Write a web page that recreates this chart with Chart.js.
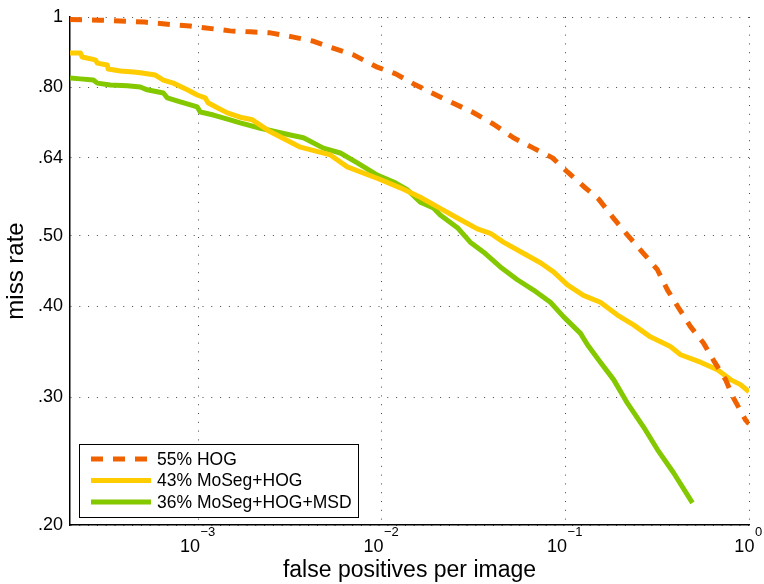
<!DOCTYPE html>
<html>
<head>
<meta charset="utf-8">
<script src="https://cdn.jsdelivr.net/npm/chart.js@4/dist/chart.umd.min.js"></script>
<style>
  html, body { margin: 0; padding: 0; background: #fff; }
  #wrap { width: 764px; height: 584px; }
</style>
</head>
<body>
<div id="wrap"><canvas id="roc"></canvas></div>
<script>
// curves (false positives per image, miss rate)
var hogX = [2.0e-4, 2.9e-4, 5.1e-4, 6.6e-4, 9.0e-4, 1.49e-3, 1.92e-3, 2.47e-3, 3.25e-3, 4.18e-3,
            5.23e-3, 7.0e-3, 9.44e-3, 1.19e-2, 1.49e-2, 1.91e-2, 2.42e-2, 3.11e-2, 4.06e-2, 5.21e-2,
            6.7e-2, 8.5e-2, 0.1026, 0.1253, 0.1514, 0.1803, 0.218, 0.266, 0.317, 0.36,
            0.413, 0.48, 0.565, 0.641, 0.745, 0.824, 0.957, 1.0];
var hogY = [0.992, 0.990, 0.984, 0.978, 0.972, 0.957, 0.954, 0.951, 0.939, 0.927,
            0.909, 0.887, 0.853, 0.835, 0.809, 0.784, 0.762, 0.740, 0.712, 0.682,
            0.660, 0.640, 0.612, 0.585, 0.562, 0.531, 0.501, 0.473, 0.449, 0.421,
            0.398, 0.375, 0.356, 0.337, 0.317, 0.299, 0.279, 0.2755];

var mosegX = [2.0e-4, 2.28e-4, 2.33e-4, 2.75e-4, 2.82e-4, 3.19e-4, 3.23e-4, 3.76e-4, 4.43e-4, 4.83e-4,
              5.83e-4, 6.45e-4, 7.31e-4, 8.71e-4, 9.87e-4, 1.09e-3, 1.13e-3, 1.27e-3, 1.44e-3, 1.69e-3,
              1.97e-3, 2.47e-3, 3.6e-3, 5.24e-3, 6.48e-3, 9.57e-3, 1.26e-2, 1.62e-2, 2.01e-2, 2.58e-2,
              3.31e-2, 3.9e-2, 4.59e-2, 5.9e-2, 7.31e-2, 8.61e-2, 0.1026, 0.1253, 0.155, 0.192,
              0.235, 0.29, 0.373, 0.424, 0.544, 0.673, 0.793, 0.899, 1.0];
var mosegY = [0.892, 0.892, 0.881, 0.873, 0.864, 0.859, 0.848, 0.843, 0.840, 0.838,
              0.832, 0.819, 0.811, 0.794, 0.781, 0.774, 0.762, 0.750, 0.738, 0.728,
              0.722, 0.695, 0.662, 0.646, 0.622, 0.599, 0.582, 0.565, 0.548, 0.529,
              0.511, 0.504, 0.490, 0.473, 0.459, 0.446, 0.428, 0.414, 0.405, 0.389,
              0.377, 0.363, 0.352, 0.343, 0.335, 0.327, 0.317, 0.312, 0.305];

var msdX = [2.0e-4, 2.28e-4, 2.68e-4, 2.82e-4, 3.31e-4, 4.1e-4, 4.83e-4, 5.27e-4, 6.45e-4, 6.78e-4,
            7.98e-4, 9.87e-4, 1.025e-3, 1.21e-3, 1.49e-3, 1.69e-3, 2.18e-3, 3.17e-3, 3.74e-3, 4.8e-3,
            5.94e-3, 7.35e-3, 9.44e-3, 1.16e-2, 1.38e-2, 1.62e-2, 1.91e-2, 2.08e-2, 2.58e-2, 3.03e-2,
            3.57e-2, 4.42e-2, 5.47e-2, 6.7e-2, 8.28e-2, 9.75e-2, 0.1208, 0.1318, 0.155, 0.183,
            0.218, 0.266, 0.317, 0.388, 0.492];
var msdY = [0.824, 0.822, 0.819, 0.811, 0.806, 0.804, 0.801, 0.794, 0.786, 0.774,
            0.764, 0.752, 0.740, 0.733, 0.722, 0.715, 0.703, 0.688, 0.682, 0.660,
            0.650, 0.630, 0.606, 0.593, 0.578, 0.556, 0.546, 0.534, 0.513, 0.490,
            0.475, 0.453, 0.435, 0.421, 0.405, 0.387, 0.367, 0.354, 0.335, 0.317,
            0.294, 0.273, 0.254, 0.236, 0.2145];

var seriesNames = ['55% HOG', '43% MoSeg+HOG', '36% MoSeg+HOG+MSD'];

var xTicks = [1e-3, 1e-2, 1e-1, 1];
var xTickExp = ['\u22123', '\u22122', '\u22121', '0'];   // drawn as 10 with a raised exponent
var yTicks = [0.2, 0.3, 0.4, 0.5, 0.64, 0.8, 1];
var yTickLabels = ['.20', '.30', '.40', '.50', '.64', '.80', '1'];

var orange = 'rgb(240,98,0)';
var yellow = 'rgb(255,204,0)';
var green  = 'rgb(132,200,0)';
var font = '"Liberation Sans", Arial, sans-serif';

function pts(xs, ys) {
    return xs.map(function(x, i) { return {x: x, y: ys[i]}; });
}

Chart.defaults.color = '#000';
Chart.defaults.font.family = font;

// x tick labels as 10^n with a real superscript
var powerLabels = {
    id: 'powerLabels',
    afterDraw: function(chart) {
        var ctx = chart.ctx;
        var sx = chart.scales.x;
        var base = sx.top + 27;
        ctx.save();
        ctx.fillStyle = '#000';
        ctx.textBaseline = 'alphabetic';
        ctx.textAlign = 'left';
        xTicks.forEach(function(v, i) {
            var px = sx.getPixelForValue(v);
            ctx.font = '18px ' + font;
            var w1 = ctx.measureText('10').width;
            ctx.font = '13px ' + font;
            var w2 = ctx.measureText(xTickExp[i]).width;
            var x0 = px - (w1 + w2) / 2 - 1;
            ctx.font = '18px ' + font;
            ctx.fillText('10', x0, base);
            ctx.font = '13px ' + font;
            ctx.fillText(xTickExp[i], x0 + w1 + 0.5, base - 16);
        });
        ctx.restore();
    }
};

// legend box drawn inside the plot, lower left
var boxLegend = {
    id: 'boxLegend',
    afterDraw: function(chart) {
        var ctx = chart.ctx;
        var a = chart.chartArea;
        var x0 = a.left + 9, y0 = a.bottom - 81, w = 279, h = 73;
        ctx.save();
        ctx.fillStyle = '#fff';
        ctx.fillRect(x0, y0, w, h);
        ctx.strokeStyle = '#000';
        ctx.lineWidth = 1;
        ctx.strokeRect(x0 + 0.5, y0 + 0.5, w, h);
        ctx.font = '17.5px ' + font;
        ctx.textBaseline = 'middle';
        chart.data.datasets.forEach(function(ds, i) {
            var yy = y0 + 15 + i * 21.5;
            ctx.beginPath();
            ctx.setLineDash(ds.borderDash || []);
            ctx.lineWidth = ds.borderWidth;
            ctx.strokeStyle = ds.borderColor;
            ctx.lineCap = 'butt';
            ctx.moveTo(x0 + 12, yy);
            ctx.lineTo(x0 + 72, yy);
            ctx.stroke();
            ctx.setLineDash([]);
            ctx.fillStyle = '#000';
            ctx.fillText(ds.label, x0 + 78, yy + 1);
        });
        ctx.restore();
    }
};

var config = {
    type: 'line',
    data: {
        datasets: [{
            label: seriesNames[0],
            data: pts(hogX, hogY),
            borderColor: orange,
            borderWidth: 5,
            borderDash: [12, 10],
            borderCapStyle: 'butt'
        }, {
            label: seriesNames[1],
            data: pts(mosegX, mosegY),
            borderColor: yellow,
            borderWidth: 5
        }, {
            label: seriesNames[2],
            data: pts(msdX, msdY),
            borderColor: green,
            borderWidth: 5
        }]
    },
    options: {
        responsive: true,
        maintainAspectRatio: false,
        animation: false,
        events: [],
        layout: { padding: { left: 0, right: 15, top: 17, bottom: 0 } },
        elements: {
            point: { radius: 0 },
            line: { tension: 0, borderJoinStyle: 'round', fill: false }
        },
        plugins: {
            legend: { display: false },
            tooltip: { enabled: false }
        },
        scales: {
            x: {
                type: 'logarithmic',
                min: 2e-4,
                max: 1,
                afterBuildTicks: function(scale) {
                    scale.ticks = xTicks.map(function(v) { return {value: v}; });
                },
                afterFit: function(scale) {
                    scale.height = 59;
                    scale.paddingLeft = 0;
                    scale.paddingRight = 0;
                },
                ticks: { display: false, autoSkip: false, maxRotation: 0 },
                grid: { drawTicks: false, color: '#444', lineWidth: 1 },
                border: { display: true, color: '#000', width: 1.5, dash: [1, 7.8] },
                title: {
                    display: true,
                    text: 'false positives per image',
                    font: { size: 23 },
                    padding: { top: 0, bottom: 0 }
                }
            },
            y: {
                type: 'logarithmic',
                min: 0.2,
                max: 1,
                afterBuildTicks: function(scale) {
                    scale.ticks = yTicks.map(function(v) { return {value: v}; });
                },
                afterFit: function(scale) {
                    scale.width = 70;
                    scale.paddingTop = 0;
                    scale.paddingBottom = 0;
                },
                ticks: {
                    autoSkip: false,
                    padding: 7,
                    font: { size: 18 },
                    callback: function(v) {
                        var i = yTicks.indexOf(v);
                        return i >= 0 ? yTickLabels[i] : '';
                    }
                },
                grid: { drawTicks: false, color: '#444', lineWidth: 1 },
                border: { display: true, color: '#000', width: 1.5, dash: [1, 7.8] },
                title: {
                    display: true,
                    text: 'miss rate',
                    font: { size: 24 },
                    padding: { top: 2, bottom: 0 }
                }
            }
        }
    },
    plugins: [powerLabels, boxLegend]
};

onload = function() {
    var ctx = document.getElementById('roc').getContext('2d');
    window.chart = new Chart(ctx, config);
};
</script>
</body>
</html>
